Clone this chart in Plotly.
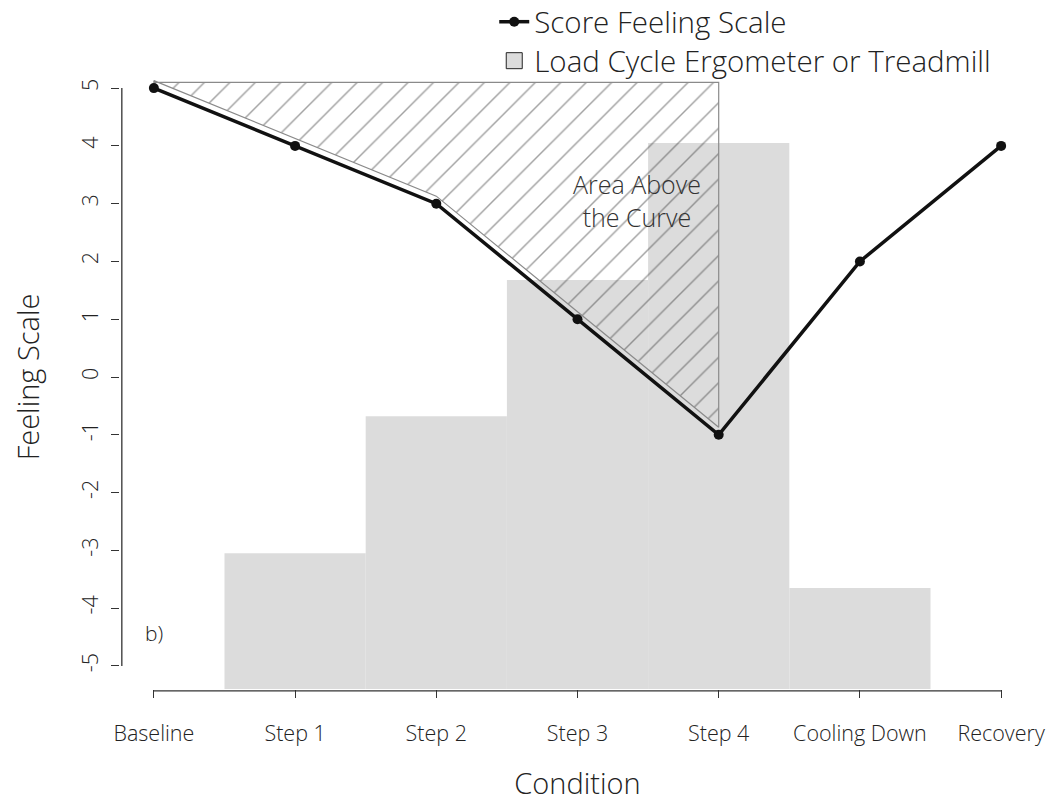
import plotly.graph_objects as go

categories = ["Baseline", "Step 1", "Step 2", "Step 3", "Step 4", "Cooling Down", "Recovery"]
feeling_scores = [5, 4, 3, 1, -1, 2, 4]
load_categories = ["Step 1", "Step 2", "Step 3", "Step 4", "Cooling Down"]
load_levels = [-3.05, -0.68, 1.68, 4.05, -3.65]
y_ticks = [-5, -4, -3, -2, -1, 0, 1, 2, 3, 4, 5]

Y_MIN, Y_MAX = -5.4, 5.4
HATCH_TOP = 5.1
HATCH_OFFSET = 0.13
FONT = "Open Sans"
TXT = "#222222"
W = 300

fig = go.Figure()

# load bars (from bottom of plot)
fig.add_trace(go.Bar(
    x=load_categories,
    y=[v - Y_MIN for v in load_levels],
    base=Y_MIN,
    width=1.0,
    marker=dict(color="#dcdcdc", line=dict(width=0)),
    showlegend=False,
    hoverinfo="skip",
))

# hatched area above the curve (Baseline .. Step 4)
n = categories.index("Step 4") + 1
poly_x = categories[:n] + [categories[n - 1], categories[0], categories[0]]
poly_y = [s + HATCH_OFFSET for s in feeling_scores[:n]] + [HATCH_TOP, HATCH_TOP, feeling_scores[0] + HATCH_OFFSET]
fig.add_trace(go.Scatter(
    x=poly_x, y=poly_y,
    mode="lines",
    fill="toself",
    fillcolor="rgba(0,0,0,0)",
    fillpattern=dict(shape="/", fgcolor="#444444", bgcolor="rgba(0,0,0,0)", size=18, solidity=0.08),
    line=dict(color="#8a8a8a", width=1.2),
    showlegend=False,
    hoverinfo="skip",
))

# feeling score line
fig.add_trace(go.Scatter(
    x=categories, y=feeling_scores,
    mode="lines+markers",
    line=dict(color="#111111", width=3.5),
    marker=dict(color="#111111", size=10),
    name="Score Feeling Scale",
    legend="legend",
))

# legend entry for bars
fig.add_trace(go.Scatter(
    x=[None], y=[None],
    mode="markers",
    marker=dict(symbol="square", size=17, color="#dcdcdc", line=dict(color="#222222", width=1)),
    name="Load Cycle Ergometer or Treadmill",
    legend="legend2",
))

fig.add_annotation(x=3.42, y=3.05, text="Area Above<br>the Curve", showarrow=False,
                   font=dict(family=FONT, size=25, color="#333333", weight=W))
fig.add_annotation(x=0, y=-4.43, text="b)", showarrow=False,
                   font=dict(family=FONT, size=21, color=TXT, weight=W))

# R-style detached axis lines
fig.add_shape(type="line", xref="x", yref="paper", x0=categories[0], x1=categories[-1], y0=-0.003, y1=-0.003,
              line=dict(color="#333333", width=1.3))
fig.add_shape(type="line", xref="paper", yref="y", x0=0.002, x1=0.002, y0=y_ticks[0], y1=y_ticks[-1],
              line=dict(color="#333333", width=1.3))

legend_style = dict(x=0.409, xanchor="left", yanchor="middle",
                    font=dict(size=29.5, color=TXT, weight=W),
                    bgcolor="rgba(0,0,0,0)")

fig.update_layout(
    width=1053, height=802,
    margin=dict(l=120, r=18, t=65, b=113, autoexpand=False),
    plot_bgcolor="white", paper_bgcolor="white",
    font=dict(family=FONT, color=TXT, weight=W),
    barmode="overlay",
    legend=dict(y=1.0689, **legend_style),
    legend2=dict(y=1.0064, **legend_style),
    xaxis=dict(
        type="category", categoryorder="array", categoryarray=categories,
        range=[-0.24, len(categories) - 1 + 0.24],
        showgrid=False, zeroline=False, showline=False, automargin=False,
        ticks="outside", ticklen=8, tickwidth=1.3, tickcolor="#333333",
        tickfont=dict(size=21.5, color=TXT, weight=W), ticklabelstandoff=17,
        title=dict(text="Condition", font=dict(size=29, color=TXT, weight=W), standoff=30),
    ),
    yaxis=dict(
        range=[Y_MIN, Y_MAX], tickvals=y_ticks, ticktext=[str(t) for t in y_ticks],
        showgrid=False, zeroline=False, showline=False, automargin=False,
        ticks="outside", ticklen=8, tickwidth=1.3, tickcolor="#333333",
        tickangle=-90, tickfont=dict(size=21.5, color=TXT, weight=W), ticklabelstandoff=4,
        title=dict(text="Feeling Scale", font=dict(size=29, color=TXT, weight=W), standoff=27),
    ),
)

fig.write_html("out.html",
               config={"displayModeBar": False},
               post_script="document.body.style.margin='0';document.body.style.overflow='hidden';")
